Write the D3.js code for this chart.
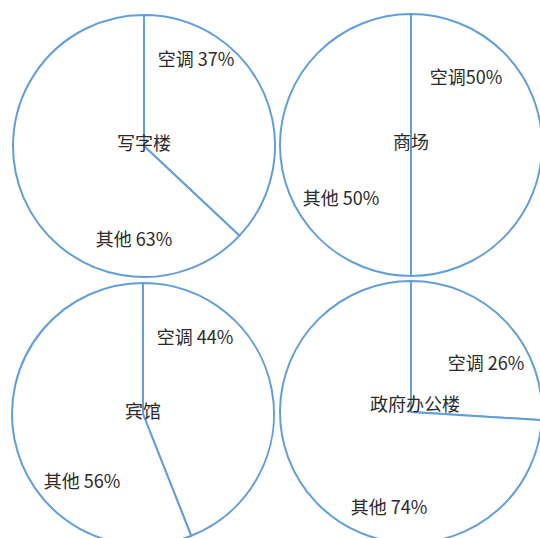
<!DOCTYPE html>
<html>
<head>
<meta charset="utf-8">
<script src="https://cdn.jsdelivr.net/npm/d3@7"></script>
<style>
  body { margin: 0; background: #fff; }
  text { font-family: "Noto Sans CJK SC", "Noto Sans", sans-serif; fill: #2a2a2a; }
</style>
</head>
<body>
<script>
var width = 540;
var height = 538;

// data
var buildings = ['写字楼', '商场', '宾馆', '政府办公楼'];
var categories = ['空调', '其他'];
var acShare = [37, 50, 44, 26];
var otherShare = [63, 50, 56, 74];
var labelSep = [' ', '', ' ', ' '];

// layout: pie centres and label offsets (relative to centre)
var centers = [[144, 146], [411, 145], [143, 414], [411, 412]];
var radius = 131;
var labelOffsets = [
    [[52, -86], [-10, 94]],
    [[55, -67], [-70, 54]],
    [[52, -76], [-61, 68]],
    [[75, -48], [-22, 96]]
];

var svg = d3.select('body')
    .append('svg')
    .attr('width', width)
    .attr('height', height);

var pie = d3.pie().sort(null).value(d => d);
var arc = d3.arc().innerRadius(0).outerRadius(radius);

buildings.forEach(function(name, i) {
    var g = svg.append('g')
        .attr('transform', 'translate(' + centers[i][0] + ',' + centers[i][1] + ')');

    var values = [acShare[i], otherShare[i]];

    g.selectAll('path')
        .data(pie(values))
        .enter()
        .append('path')
        .attr('d', arc)
        .attr('fill', '#fff')
        .attr('stroke', '#629fd8')
        .attr('stroke-width', 2)
        .attr('stroke-linejoin', 'round');

    g.append('text')
        .attr('x', i == 3 ? 4 : 0)
        .attr('y', i == 3 ? -7 : -2)
        .attr('text-anchor', 'middle')
        .attr('dy', '0.35em')
        .style('font-size', '18px')
        .text(name);

    values.forEach(function(v, j) {
        g.append('text')
            .attr('x', labelOffsets[i][j][0])
            .attr('y', labelOffsets[i][j][1])
            .attr('text-anchor', 'middle')
            .attr('dy', '0.35em')
            .style('font-size', '18px')
            .text(categories[j] + (j == 0 ? labelSep[i] : ' ') + v + '%');
    });
});
</script>
</body>
</html>
